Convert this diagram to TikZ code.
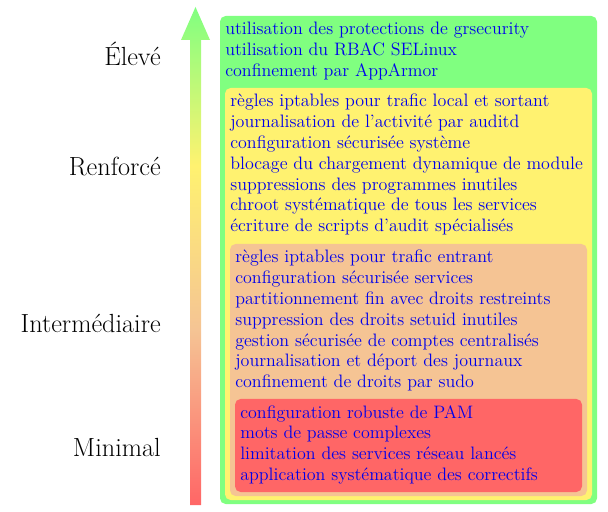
\documentclass[tikz,border=0pt]{standalone}
\usetikzlibrary{positioning}

% level colours
\definecolor{lvlgreen}{RGB}{128,255,128}
\definecolor{lvlyellow}{RGB}{255,242,112}
\definecolor{lvlorange}{RGB}{245,196,148}
\definecolor{lvlred}{RGB}{255,102,102}
\definecolor{itemblue}{RGB}{0,0,235}

% gradient of the level arrow: red at the bottom, green at the top
\pgfdeclareverticalshading{levelshade}{100bp}{%
  color(0bp)=(lvlred); color(25bp)=(lvlred);
  color(42.6bp)=(lvlorange); color(59.1bp)=(lvlyellow);
  color(75bp)=(lvlgreen); color(100bp)=(lvlgreen)}

\tikzset{
  levelbox/.style={rounded corners=3.5pt},
  items/.style={anchor=north west, inner sep=0pt, align=left,
    text=itemblue, font=\fontsize{11.25}{13}\selectfont},
  levellabel/.style={anchor=east, inner sep=0pt,
    font=\fontsize{16.4}{19}\selectfont}
}

\begin{document}
\begin{tikzpicture}[x=0.625pt, y=-0.625pt]
  \useasboundingbox (0,0) rectangle (608,512);

  % arrow of increasing hardening
  \shade[shading=levelshade]
    (190,505) -- (190,40) -- (181,40) -- (195.5,7) -- (210,40)
    -- (201,40) -- (201,505) -- cycle;

  % nested level boxes
  \fill[levelbox, lvlgreen]  (220,16)  rectangle (597,504);
  \fill[levelbox, lvlyellow] (225,88)  rectangle (592,500);
  \fill[levelbox, lvlorange] (230,244) rectangle (587,496);
  \fill[levelbox, lvlred]    (235,399) rectangle (582,492);

  % measures per level
  \node[items] (eleve) at (225,22) {utilisation des protections de grsecurity\\
    utilisation du RBAC SELinux\\
    confinement par AppArmor};
  \node[items] (renforce) at (230,94) {règles iptables pour trafic local et sortant\\
    journalisation de l’activité par auditd\\
    configuration sécurisée système\\
    blocage du chargement dynamique de module\\
    suppressions des programmes inutiles\\
    chroot systématique de tous les services\\
    écriture de scripts d’audit spécialisés};
  \node[items] (inter) at (235,250) {règles iptables pour trafic entrant\\
    configuration sécurisée services\\
    partitionnement fin avec droits restreints\\
    suppression des droits setuid inutiles\\
    gestion sécurisée de comptes centralisés\\
    journalisation et déport des journaux\\
    confinement de droits par sudo};
  \node[items] (minimal) at (240,405) {configuration robuste de PAM\\
    mots de passe complexes\\
    limitation des services réseau lancés\\
    application systématique des correctifs};

  % level names
  \node[levellabel] (leleve)    at (161,54)  {Élevé};
  \node[levellabel] (lrenforce) at (161,167) {Renforcé};
  \node[levellabel] (linter)    at (161,323) {Intermédiaire};
  \node[levellabel] (lminimal)  at (161,447) {Minimal};
\end{tikzpicture}
\end{document}
